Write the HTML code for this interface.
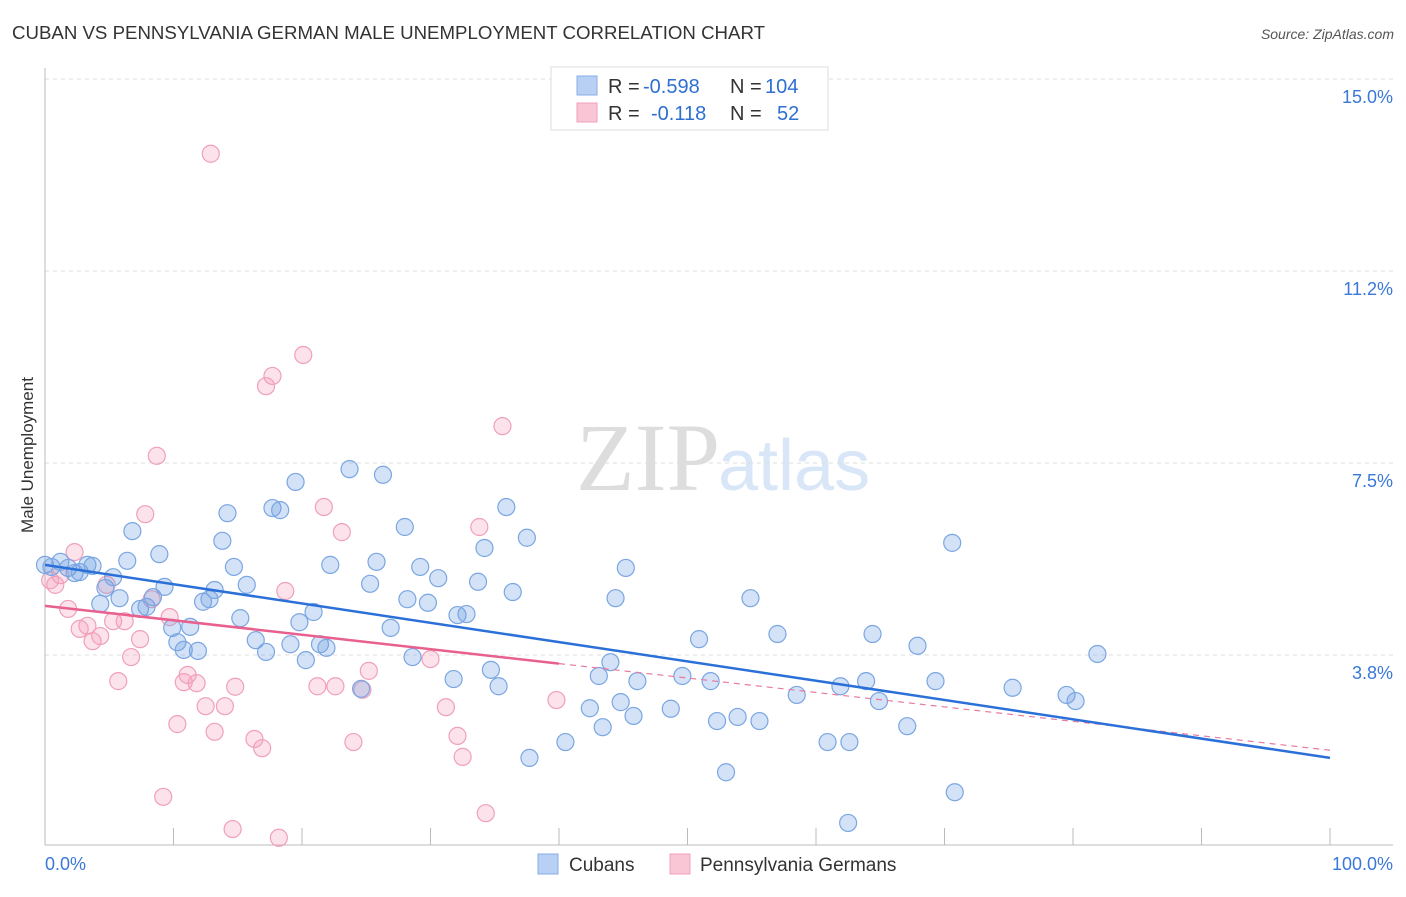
<!DOCTYPE html>
<html><head><meta charset="utf-8"><style>
body{margin:0;background:#fff;font-family:"Liberation Sans",sans-serif}
svg text{font-family:"Liberation Sans",sans-serif}
</style></head><body>
<svg id="c" width="1406" height="892" xmlns="http://www.w3.org/2000/svg">
<text x="12" y="39" font-size="18" fill="#333" textLength="753" lengthAdjust="spacingAndGlyphs">CUBAN VS PENNSYLVANIA GERMAN MALE UNEMPLOYMENT CORRELATION CHART</text>
<text x="1394" y="39" font-size="14" fill="#555" font-style="italic" text-anchor="end">Source: ZipAtlas.com</text>
<text x="720" y="490" font-size="96" fill="#ddd" text-anchor="end" style="font-family:'Liberation Serif',serif">ZIP</text>
<text x="718" y="490" font-size="72" fill="#d8e6f7">atlas</text>
<text transform="translate(33,455) rotate(-90)" font-size="17" fill="#333" text-anchor="middle">Male Unemployment</text>
<g id="grid"></g><g id="marks"></g>
<g>
<rect x="551" y="67" width="277" height="63" fill="#fff" stroke="#ddd"/>
<rect x="577" y="76" width="20" height="19" fill="#b8d0f3" stroke="#88aee6"/>
<rect x="577" y="103" width="20" height="19" fill="#f8c6d4" stroke="#f0a0b8"/>
<text x="608" y="93" font-size="20" fill="#333">R =</text>
<text x="643" y="93" font-size="20" fill="#2f6fd0">-0.598</text>
<text x="730" y="93" font-size="20" fill="#333">N =</text>
<text x="765" y="93" font-size="20" fill="#2f6fd0">104</text>
<text x="608" y="120" font-size="20" fill="#333">R =</text>
<text x="651" y="120" font-size="20" fill="#2f6fd0">-0.118</text>
<text x="730" y="120" font-size="20" fill="#333">N =</text>
<text x="777" y="120" font-size="20" fill="#2f6fd0">52</text>
</g>
<g>
<rect x="538" y="854" width="20" height="20" fill="#b8d0f3" stroke="#88aee6"/>
<text x="569" y="871" font-size="19" fill="#333">Cubans</text>
<rect x="670" y="854" width="20" height="20" fill="#f8c6d4" stroke="#f0a0b8"/>
<text x="700" y="871" font-size="19" fill="#333">Pennsylvania Germans</text>
</g>
</svg>
<script>
const yTicks=[15.0,11.25,7.5,3.75];
const yTickLabels=["15.0%","11.2%","7.5%","3.8%"];
const xTickLabels=["0.0%","100.0%"];
const cubanX=[0,0.5,1.2,1.8,2.3,2.7,3.3,3.7,4.3,4.7,5.3,5.8,6.4,6.8,7.4,7.9,8.4,8.9,9.3,9.9,10.3,10.8,11.3,11.9,12.3,12.8,13.2,13.8,14.2,14.7,15.2,15.7,16.4,17.2,17.7,18.3,19.1,19.5,19.8,20.3,20.9,21.4,21.9,22.2,23.7,24.6,25.3,25.8,26.3,26.9,28.0,28.2,28.6,29.2,29.8,30.6,31.8,32.1,32.8,33.7,34.2,34.7,35.3,35.9,36.4,37.5,37.7,40.5,42.4,43.1,43.4,44.0,44.4,44.8,45.2,45.8,46.1,48.7,49.6,50.9,51.8,52.3,53.0,53.9,54.9,55.6,57.0,58.5,60.9,61.9,62.5,62.6,63.9,64.4,64.9,67.1,67.9,69.3,70.6,70.8,75.3,79.5,80.2,81.9];
const cubanY=[5.51,5.47,5.57,5.45,5.35,5.37,5.51,5.49,4.75,5.06,5.27,4.86,5.59,6.17,4.65,4.69,4.88,5.72,5.08,4.28,4.00,3.85,4.30,3.83,4.79,4.84,5.02,5.98,6.52,5.47,4.47,5.12,4.04,3.81,6.62,6.58,3.96,7.13,4.39,3.65,4.59,3.96,3.89,5.51,7.38,3.09,5.14,5.57,7.27,4.28,6.25,4.84,3.71,5.47,4.77,5.25,3.28,4.53,4.55,5.18,5.84,3.46,3.14,6.64,4.98,6.04,1.74,2.05,2.71,3.34,2.34,3.61,4.86,2.83,5.45,2.56,3.24,2.70,3.34,4.06,3.24,2.46,1.46,2.54,4.86,2.46,4.16,2.97,2.05,3.14,0.47,2.05,3.24,4.16,2.85,2.36,3.93,3.24,5.94,1.07,3.11,2.97,2.85,3.77];
const pennX=[0.4,0.8,1.2,1.8,2.3,2.7,3.3,3.7,4.3,4.8,5.3,5.7,6.2,6.7,7.4,7.8,8.3,8.7,9.2,9.7,10.3,10.8,11.1,11.8,12.5,12.9,13.2,14.0,14.6,14.8,16.3,16.9,17.2,17.7,18.2,18.7,20.1,21.2,21.7,22.6,23.1,24.0,24.7,25.2,30.0,31.2,32.1,32.5,33.8,34.3,35.6,39.8];
const pennY=[5.21,5.12,5.31,4.65,5.76,4.26,4.32,4.02,4.12,5.12,4.41,3.24,4.41,3.71,4.06,6.50,4.84,7.64,0.98,4.49,2.40,3.22,3.36,3.20,2.75,13.54,2.25,2.75,0.35,3.13,2.11,1.93,9.00,9.20,0.18,5.00,9.61,3.14,6.64,3.14,6.15,2.05,3.07,3.44,3.67,2.73,2.17,1.76,6.25,0.66,8.22,2.87];
const cubanTrend=[5.51,1.74];
const pennTrend=[4.71,1.89];
const NS="http://www.w3.org/2000/svg";
const xs=v=>45+v*12.85, ys=v=>847-v*51.2;
function mk(t,a,p){const e=document.createElementNS(NS,t);for(const k in a)e.setAttribute(k,a[k]);p.appendChild(e);return e;}
const g=document.getElementById('grid'),m=document.getElementById('marks');
yTicks.forEach((t,i)=>{
 const l=mk('line',{x1:45,x2:1393,y1:ys(t),y2:ys(t),stroke:'#ddd','stroke-dasharray':'4,4'},g);
 
 
 const tx=mk('text',{x:1393,y:ys(t)+24,'font-size':18,fill:'#3a78d8','text-anchor':'end'},g);tx.textContent=yTickLabels[i];
 
 
});
const ax=mk('line',{x1:45,x2:1393,y1:845,y2:845,stroke:'#bbb'},g);


const ay=mk('line',{x1:45,x2:45,y1:68,y2:845,stroke:'#bbb'},g);


for(let i=0;i<=10;i++){const t=mk('line',{x1:xs(i*10),x2:xs(i*10),y1:828,y2:845,stroke:'#bbb'},g);
 
 }
const xl0=mk('text',{x:45,y:870,'font-size':18,fill:'#3a78d8'},g);xl0.textContent=xTickLabels[0];


const xl1=mk('text',{x:1393,y:870,'font-size':18,fill:'#3a78d8','text-anchor':'end'},g);xl1.textContent=xTickLabels[1];


pennX.forEach((x,i)=>{const c=mk('circle',{cx:xs(x),cy:ys(pennY[i]),r:8.5,fill:'rgba(244,160,188,0.3)',stroke:'#f0a0b8','stroke-width':1.2},m);
 
 });
cubanX.forEach((x,i)=>{const c=mk('circle',{cx:xs(x),cy:ys(cubanY[i]),r:8.5,fill:'rgba(110,160,225,0.3)',stroke:'#7aa6e2','stroke-width':1.2},m);
 
 });
const py=x=>pennTrend[0]+(pennTrend[1]-pennTrend[0])*x/100;
const pd=mk('line',{x1:xs(40),y1:ys(py(40)),x2:xs(100),y2:ys(py(100)),stroke:'#e87aa0','stroke-width':1.2,'stroke-dasharray':'6,5'},m);


const ps=mk('line',{x1:xs(0),y1:ys(py(0)),x2:xs(40),y2:ys(py(40)),stroke:'#e8608e','stroke-width':2.5},m);


const cl=mk('line',{x1:xs(0),y1:ys(cubanTrend[0]),x2:xs(100),y2:ys(cubanTrend[1]),stroke:'#2a70d8','stroke-width':2.5},m);


</script>
</body></html>
